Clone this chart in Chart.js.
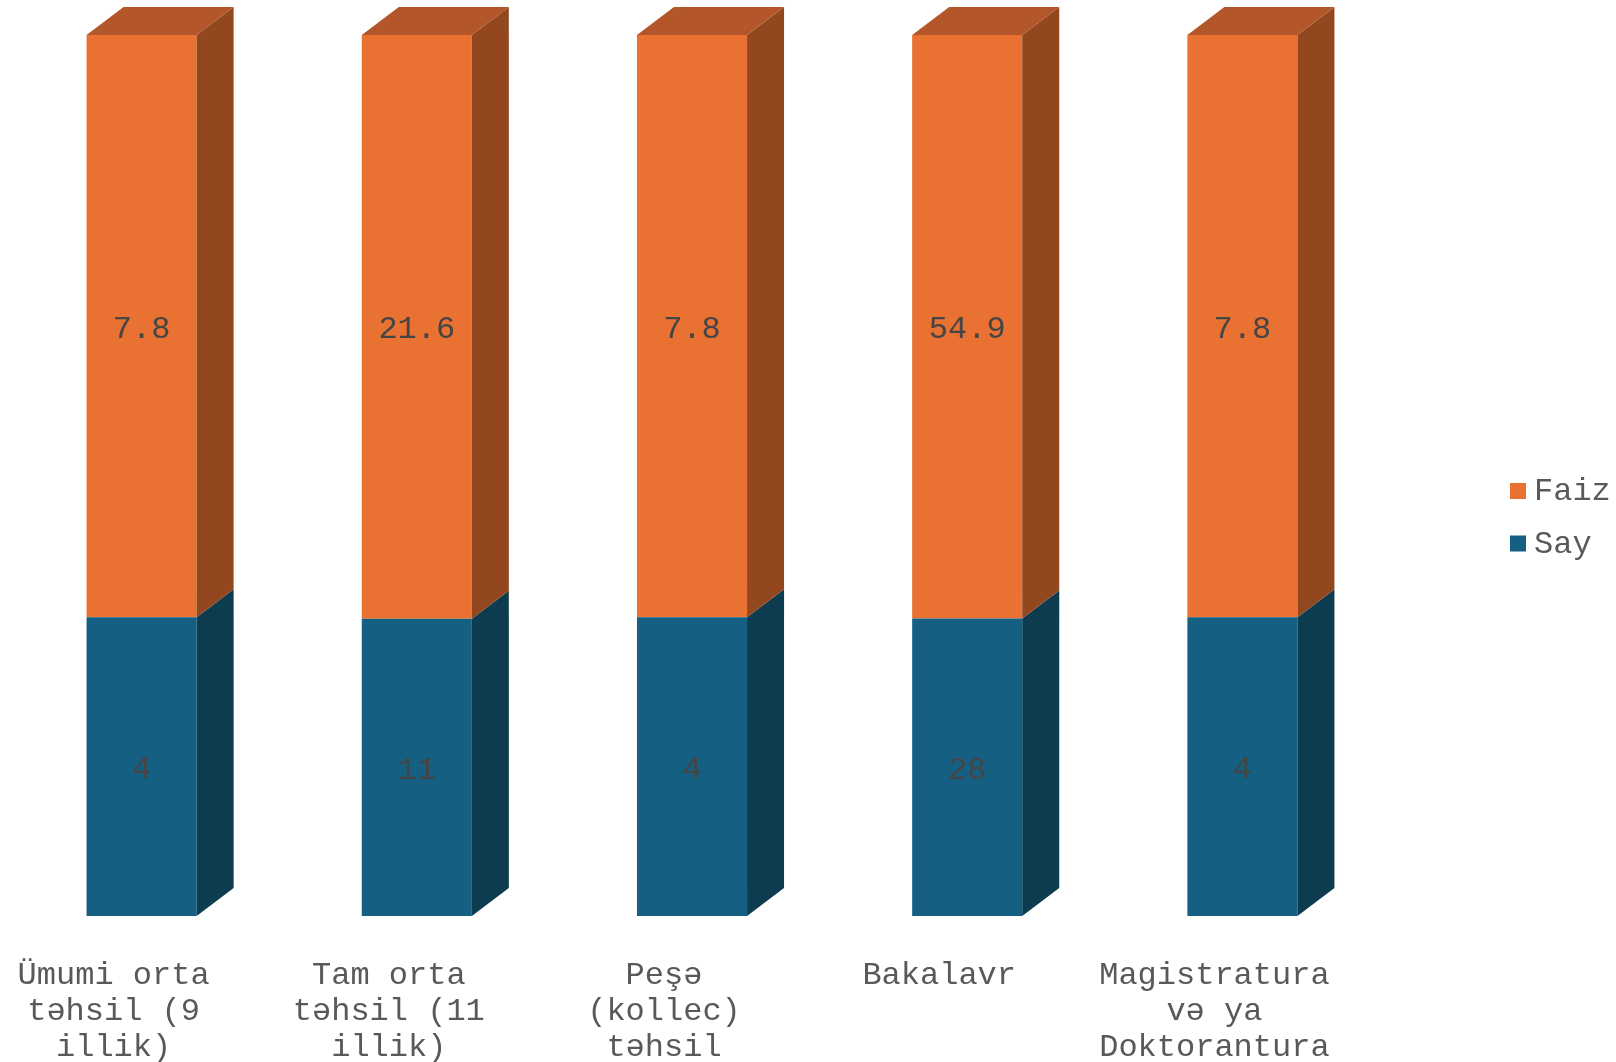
<!DOCTYPE html>
<html><head><meta charset="utf-8">
<script src="https://cdn.jsdelivr.net/npm/chart.js@4"></script>
<style>html,body{margin:0;padding:0;background:#fff;overflow:hidden}canvas{display:block}</style>
</head><body>
<canvas id="c" width="1616" height="1062"></canvas>
<script>
const categories = [
  ['Ümumi orta', 'təhsil (9', 'illik)'],
  ['Tam orta', 'təhsil (11', 'illik)'],
  ['Peşə', '(kollec)', 'təhsil'],
  ['Bakalavr'],
  ['Magistratura', 'və ya', 'Doktorantura']
];
const sayValues = [4, 11, 4, 28, 4];
const faizValues = [7.8, 21.6, 7.8, 54.9, 7.8];
const seriesNames = ['Say', 'Faiz'];

// 100% stacked shares built from the values above
const sayShare = sayValues.map((v, i) => v / (v + faizValues[i]) * 100);
const faizShare = faizValues.map((v, i) => v / (sayValues[i] + v) * 100);

const FONT = '"Liberation Mono", "Courier New", monospace';
const DX = 37, DY = 28;

const depthPlugin = {
  id: 'depth3d',
  afterDatasetsDraw(chart) {
    const ctx = chart.ctx;
    const n = chart.data.datasets.length;
    ctx.save();
    chart.data.datasets.forEach((ds, di) => {
      chart.getDatasetMeta(di).data.forEach((bar) => {
        const p = bar.getProps(['x', 'y', 'base', 'width'], true);
        const l = p.x - p.width / 2, r = p.x + p.width / 2;
        const top = Math.min(p.y, p.base), bot = Math.max(p.y, p.base);
        ctx.fillStyle = ds.sideColor;
        ctx.beginPath();
        ctx.moveTo(r, bot); ctx.lineTo(r + DX, bot - DY);
        ctx.lineTo(r + DX, top - DY); ctx.lineTo(r, top);
        ctx.closePath(); ctx.fill();
        if (di === n - 1) {
          ctx.fillStyle = ds.topColor;
          ctx.beginPath();
          ctx.moveTo(l, top); ctx.lineTo(r, top);
          ctx.lineTo(r + DX, top - DY); ctx.lineTo(l + DX, top - DY);
          ctx.closePath(); ctx.fill();
        }
      });
    });
    ctx.restore();
  }
};

const valueLabelPlugin = {
  id: 'valueLabels',
  afterDatasetsDraw(chart) {
    const ctx = chart.ctx;
    ctx.save();
    ctx.font = '32px ' + FONT;
    ctx.fillStyle = '#454545';
    ctx.textAlign = 'center';
    ctx.textBaseline = 'middle';
    chart.data.datasets.forEach((ds, di) => {
      chart.getDatasetMeta(di).data.forEach((bar, i) => {
        const p = bar.getProps(['x', 'y', 'base'], true);
        ctx.fillText(String(ds.rawValues[i]), p.x, (p.y + p.base) / 2 + 3);
      });
    });
    ctx.restore();
  }
};

const legendPlugin = {
  id: 'sideLegend',
  afterDraw(chart) {
    const ctx = chart.ctx;
    const ca = chart.chartArea;
    const x0 = ca.right + 130;
    let y = 491;
    ctx.save();
    ctx.font = '32px ' + FONT;
    ctx.textBaseline = 'middle';
    ctx.textAlign = 'left';
    const ds = chart.data.datasets.slice().reverse();
    ds.forEach((d) => {
      ctx.fillStyle = d.backgroundColor;
      ctx.fillRect(x0, y - 8, 16, 16);
      ctx.fillStyle = '#595959';
      ctx.fillText(d.label, x0 + 24, y + 1);
      y += 52.5;
    });
    ctx.restore();
  }
};

new Chart(document.getElementById('c'), {
  type: 'bar',
  data: {
    labels: categories,
    datasets: [
      { label: seriesNames[0], data: sayShare, rawValues: sayValues,
        backgroundColor: '#156082', sideColor: '#0D3B4F' },
      { label: seriesNames[1], data: faizShare, rawValues: faizValues,
        backgroundColor: '#E97132', sideColor: '#93471F', topColor: '#B3562A' }
    ]
  },
  options: {
    responsive: false,
    animation: false,
    devicePixelRatio: 1,
    layout: { padding: { top: 35, left: 4, right: 236, bottom: 0 } },
    datasets: { bar: { categoryPercentage: 1, barPercentage: 0.4 } },
    plugins: { legend: { display: false }, tooltip: { enabled: false } },
    scales: {
      x: {
        stacked: true,
        grid: { display: false, drawTicks: false },
        border: { display: false },
        afterFit(scale) { scale.height = 146; },
        ticks: {
          labelOffset: -28, padding: 42, maxRotation: 0, minRotation: 0, autoSkip: false,
          color: '#595959',
          font: { family: FONT, size: 32, lineHeight: 1.125 }
        }
      },
      y: { stacked: true, display: false, min: 0, max: 100 }
    }
  },
  plugins: [depthPlugin, valueLabelPlugin, legendPlugin]
});
</script>
</body></html>
